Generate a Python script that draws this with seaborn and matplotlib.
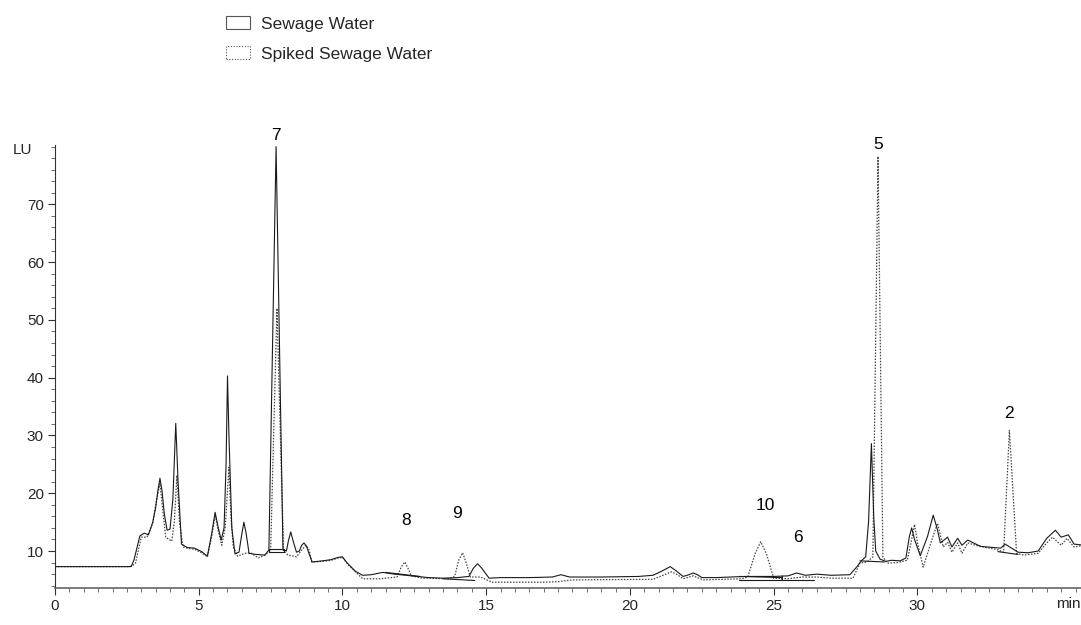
import numpy as np
import pandas as pd
import matplotlib
matplotlib.use("Agg")
import matplotlib.pyplot as plt
from matplotlib.patches import Patch
from matplotlib.ticker import MultipleLocator
import seaborn as sns

# ---------------- data ----------------
sewage_t = [0, 2.65, 2.75, 2.95, 3.1, 3.25, 3.4, 3.5, 3.58, 3.65, 3.72, 3.8,
            3.9, 4.0, 4.1, 4.2, 4.28, 4.4, 4.6, 4.85, 5.1, 5.3, 5.45, 5.57,
            5.68, 5.78, 5.88, 5.95, 6.0, 6.05, 6.15, 6.26, 6.4, 6.5, 6.57, 6.65,
            6.75, 7.0, 7.3, 7.44, 7.69, 7.93, 8.05, 8.12, 8.2, 8.28, 8.4, 8.5,
            8.58, 8.66, 8.75, 8.94, 9.3, 9.6, 9.85, 10.0, 10.15, 10.45, 10.7,
            11.0, 11.4, 11.8, 12.2, 12.6, 13.0, 13.5, 14.0, 14.4, 14.55, 14.7,
            14.85, 15.1, 15.5, 16.5, 17.3, 17.6, 17.9, 19.0, 20.3, 20.8, 21.1,
            21.4, 21.6, 21.85, 22.05, 22.2, 22.35, 22.5, 23.0, 24.0, 25.0, 25.5,
            25.8, 26.1, 26.5, 27.0, 27.65, 27.9, 28.05, 28.2, 28.3, 28.4, 28.48,
            28.55, 28.7, 28.9, 29.1, 29.4, 29.6, 29.72, 29.8, 29.9, 30.1, 30.35,
            30.55, 30.68, 30.8, 31.05, 31.2, 31.4, 31.55, 31.75, 31.95, 32.2,
            32.9, 33.05, 33.5, 33.85, 34.2, 34.5, 34.8, 35.0, 35.25, 35.45, 35.8]
sewage_lu = [7.3, 7.3, 8.5, 12.6, 13.1, 12.8, 15.0, 17.5, 20.5, 22.6, 20.5, 16.5,
             13.6, 13.8, 19.0, 32.1, 22.0, 11.2, 10.6, 10.5, 9.9, 9.1, 13.0, 16.7,
             14.0, 11.9, 14.0, 25.0, 40.3, 30.0, 14.0, 9.5, 9.8, 13.0, 15.0, 13.0,
             9.6, 9.4, 9.3, 10.2, 80.0, 10.2, 10.0, 11.8, 13.3, 11.8, 9.8, 10.0,
             11.0, 11.4, 10.8, 8.1, 8.3, 8.5, 8.9, 9.0, 8.0, 6.5, 5.8,
             5.9, 6.3, 6.0, 5.8, 5.6, 5.4, 5.3, 5.4, 5.6, 7.0, 7.8,
             7.0, 5.3, 5.4, 5.4, 5.5, 5.9, 5.5, 5.5, 5.6, 5.8, 6.5,
             7.3, 6.6, 5.6, 5.9, 6.2, 5.9, 5.4, 5.4, 5.6, 5.6, 5.7,
             6.2, 5.8, 6.0, 5.8, 5.9, 7.3, 8.3, 9.0, 15.0, 28.6, 16.0,
             10.0, 8.6, 8.2, 8.4, 8.3, 8.8, 12.5, 14.0, 12.0, 9.2, 12.5,
             16.2, 14.0, 11.4, 12.4, 10.7, 12.2, 11.0, 11.9, 11.4, 10.8,
             10.5, 11.2, 9.8, 9.7, 10.0, 12.2, 13.6, 12.4, 12.8, 11.2, 11.0]

spiked_t = [0, 2.6, 2.7, 2.8, 3.0, 3.2, 3.4, 3.52, 3.65, 3.75, 3.85, 4.06,
            4.15, 4.24, 4.33, 4.45, 4.6, 4.85, 5.1, 5.3, 5.45, 5.57, 5.68, 5.8,
            5.92, 6.05, 6.12, 6.2, 6.35, 6.6, 6.8, 7.07, 7.3, 7.5, 7.72, 7.95,
            8.1, 8.4, 8.6, 8.73, 8.83, 8.94, 9.3, 9.6, 9.85, 10.0, 10.2, 10.7,
            11.3, 11.9, 12.05, 12.17, 12.28, 12.4, 12.8, 13.7, 13.9, 14.05,
            14.18, 14.3, 14.45, 14.8, 15.2, 17.0, 17.5, 18.0, 20.8, 21.15,
            21.45, 21.65, 21.85, 22.2, 22.55, 23.9, 24.1, 24.35, 24.55, 24.75,
            25.0, 25.5, 26.0, 26.5, 27.0, 27.76, 28.0, 28.25, 28.45, 28.63,
            28.8, 28.95, 29.3, 29.65, 29.8, 29.9, 30.0, 30.2, 30.5, 30.7, 30.9,
            31.05, 31.2, 31.4, 31.55, 31.75, 32.1, 32.8, 33.0, 33.2, 33.45,
            33.7, 34.2, 34.5, 34.7, 35.0, 35.2, 35.45, 35.8]
spiked_lu = [7.3, 7.3, 7.5, 7.9, 12.4, 12.4, 14.8, 18.5, 21.7, 17.0, 12.4, 11.7,
             15.0, 23.1, 15.0, 10.7, 10.5, 10.3, 9.7, 9.0, 12.5, 16.2, 13.5, 11.0,
             14.0, 24.5, 16.0, 10.7, 9.1, 9.6, 9.7, 8.8, 9.3, 10.0, 52.0, 10.0,
             9.3, 9.0, 10.3, 11.0, 10.3, 8.1, 8.2, 8.4, 8.8, 8.9, 7.6, 5.2,
             5.2, 5.5, 7.3, 8.1, 7.0, 5.7, 5.3, 5.2, 5.6, 8.5,
             9.7, 8.0, 5.5, 5.5, 4.6, 4.6, 4.7, 5.0, 5.1, 5.8,
             6.4, 5.9, 5.2, 5.7, 5.0, 5.2, 5.5, 9.5, 11.6, 9.5,
             5.3, 5.2, 5.5, 5.5, 5.3, 5.3, 7.9, 8.1, 9.0, 78.3,
             9.0, 7.9, 8.0, 8.4, 12.0, 14.6, 11.5, 7.2, 11.9, 14.8, 10.7,
             11.5, 9.8, 11.4, 9.6, 11.4, 10.9, 10.2, 9.8, 30.9, 9.6,
             9.3, 9.6, 11.4, 12.4, 11.0, 12.2, 10.7, 11.0]

# integration baseline marks drawn by the integrator
base7_t = [7.45, 7.45, 7.95, 7.95, 7.45]
base7_lu = [9.8, 10.4, 10.4, 9.8, 9.8]
base8_t = [11.5, 12.7]
base8_lu = [6.3, 5.6]
base9_t = [13.5, 14.6]
base9_lu = [5.2, 4.9]
base10_t = [23.8, 25.3, 25.3, 25.3]
base10_lu = [5.6, 5.4, 5.0, 5.7]
base6_t = [23.8, 26.4]
base6_lu = [5.0, 5.0]
base5_t = [28.0, 28.85]
base5_lu = [8.3, 8.1]
base2_t = [32.8, 33.5]
base2_lu = [9.9, 9.4]

peak_labels = ["7", "8", "9", "10", "6", "5", "2"]
peak_label_t = [7.7, 12.2, 14.0, 24.7, 25.85, 28.63, 33.2]
peak_label_lu = [82.0, 15.3, 16.5, 17.9, 12.4, 80.3, 33.8]

x_major_ticks = [0, 5, 10, 15, 20, 25, 30]
y_major_ticks = [10, 20, 30, 40, 50, 60, 70]
series_names = ["Sewage Water", "Spiked Sewage Water"]

# ---------------- plot ----------------
sns.set_style("ticks")
plt.rcParams["font.family"] = ["Liberation Sans", "DejaVu Sans"]

fig = plt.figure(figsize=(10.81, 6.25), dpi=100)
ax = fig.add_axes([0.0509, 0.0592, 0.952, 0.709])

dark = "#1a1a1a"
grey = "#444444"

df_s = pd.DataFrame({"t": sewage_t, "lu": sewage_lu})
df_p = pd.DataFrame({"t": spiked_t, "lu": spiked_lu})
sns.lineplot(data=df_p, x="t", y="lu", ax=ax, sort=False, estimator=None,
             color=grey, lw=0.9, linestyle=(0, (1.2, 1.2)))
sns.lineplot(data=df_s, x="t", y="lu", ax=ax, sort=False, estimator=None,
             color=dark, lw=0.8)

for bt, bl in [(base7_t, base7_lu), (base8_t, base8_lu), (base9_t, base9_lu),
               (base10_t, base10_lu), (base6_t, base6_lu), (base5_t, base5_lu),
               (base2_t, base2_lu)]:
    ax.plot(bt, bl, color=dark, lw=0.8)

for lab, t, v in zip(peak_labels, peak_label_t, peak_label_lu):
    ax.text(t, v, lab, ha="center", va="center", fontsize=12.5, color="black",
            clip_on=False)

ax.set_xlim(0, 35.8)
ax.set_ylim(3.6, 80.3)
ax.set_xticks(x_major_ticks)
ax.set_yticks(y_major_ticks)
ax.xaxis.set_minor_locator(MultipleLocator(0.5))
ax.yaxis.set_minor_locator(MultipleLocator(2))
ax.tick_params(axis="both", which="major", length=5, width=0.8, labelsize=11,
               color="#333333", pad=3)
ax.tick_params(axis="both", which="minor", length=3, width=0.6, color="#555555")
ax.set_xlabel("")
ax.set_ylabel("")
for side in ["top", "right"]:
    ax.spines[side].set_visible(False)
ax.spines["left"].set_color("#333333")
ax.spines["bottom"].set_color("#666666")
ax.spines["left"].set_linewidth(0.8)
ax.spines["bottom"].set_linewidth(1.2)
ax.set_facecolor("white")

ax.text(35.25, -0.036, "min", transform=ax.get_xaxis_transform(),
        ha="center", va="center", fontsize=11)
fig.text(0.021, 0.76, "LU", ha="center", va="center", fontsize=11)

handles = [Patch(facecolor="none", edgecolor="#555555", linewidth=0.8),
           Patch(facecolor="none", edgecolor="#555555", linewidth=0.8,
                 linestyle=(0, (1, 1.5)))]
fig.legend(handles, series_names, loc="upper left",
           bbox_to_anchor=(0.203, 0.985), frameon=False, fontsize=12.5,
           handlelength=1.35, handleheight=0.75, handletextpad=0.65,
           labelspacing=0.85, borderaxespad=0)

fig.savefig("out.png", dpi=100)
